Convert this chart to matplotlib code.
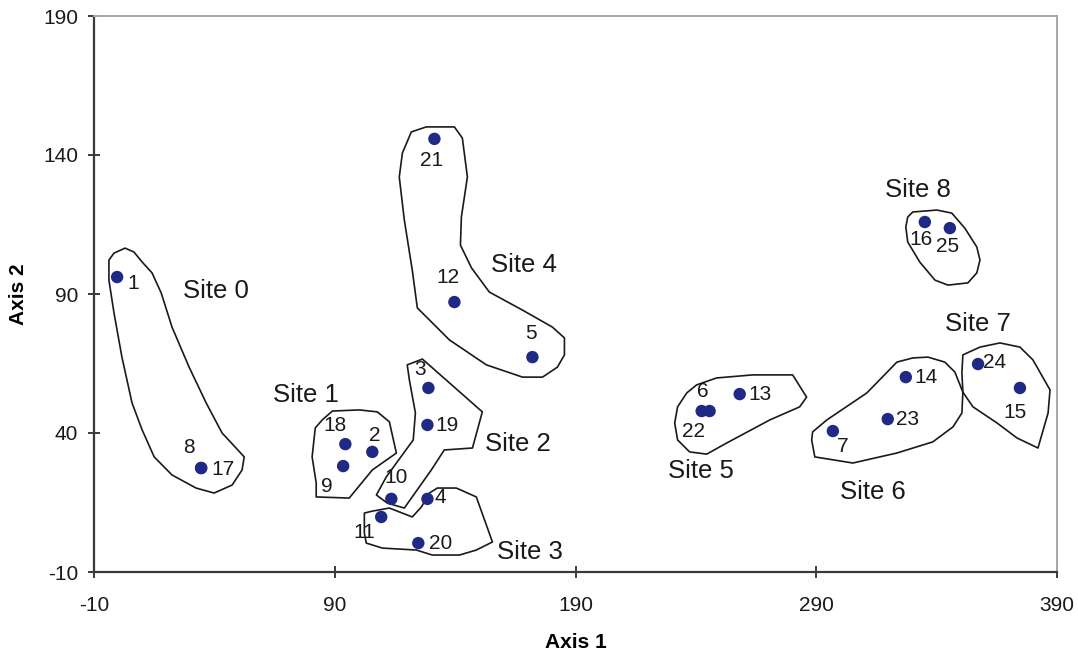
import matplotlib
matplotlib.use('Agg')
from matplotlib import pyplot as plt
from matplotlib.patches import Polygon

plt.rcParams['font.family'] = ['Liberation Sans', 'DejaVu Sans']
plt.rcParams['axes.unicode_minus'] = False

# sample points (axis 1, axis 2)
ids = [1, 8, 17, 21, 12, 5, 3, 19, 18, 2, 9, 10, 4, 11, 20, 6, 22, 13, 7, 23, 14, 24, 15, 16, 25]
axis1 = [-0.4, 34.5, 34.5, 131.4, 139.7, 172.1, 128.9, 128.5, 94.4, 105.6, 93.5, 113.5, 128.5,
         109.3, 124.7, 245.7, 242.4, 258.2, 296.9, 319.7, 327.2, 357.2, 374.6, 335.1, 345.5]
axis2 = [96.1, 27.4, 27.4, 145.8, 87.1, 67.3, 56.2, 42.9, 36.0, 33.2, 28.1, 16.3, 16.3,
         9.8, 0.4, 47.9, 47.9, 54.0, 40.7, 45.0, 60.1, 64.8, 56.2, 115.9, 113.7]

# group outlines
site_names = ['Site 0', 'Site 1', 'Site 2', 'Site 3', 'Site 4', 'Site 5', 'Site 6', 'Site 7', 'Site 8']
site_outlines = [
    [(-3.8, 102.2), (-1.7, 104.7), (2.9, 106.5), (6.6, 105.1), (10.0, 101.5), (14.1, 97.6),
     (17.9, 90.4), (22.4, 78.1), (29.5, 63.7), (36.6, 50.8), (43.2, 40.0), (49.0, 34.6),
     (52.4, 31.4), (51.5, 26.7), (47.4, 21.3), (39.9, 18.4), (32.4, 20.2), (22.4, 24.9),
     (15.0, 31.4), (10.0, 41.1), (5.8, 50.8), (1.6, 67.3), (-1.7, 83.2), (-3.8, 95.0)],
    [(84.8, 44.7), (89.0, 47.9), (100.2, 48.3), (107.7, 47.6), (112.7, 44.0), (113.9, 39.3),
     (115.6, 32.8), (105.6, 26.7), (96.0, 16.6), (82.3, 17.0), (82.3, 22.0), (80.6, 31.4),
     (81.9, 41.8)],
    [(120.1, 64.5), (126.4, 66.6), (151.3, 47.6), (147.2, 34.6), (135.5, 33.9), (130.1, 26.7),
     (118.9, 13.0), (111.8, 14.8), (107.3, 17.7), (111.4, 24.2), (122.6, 37.5), (123.5, 47.2),
     (121.0, 59.1)],
    [(102.3, 11.2), (105.6, 11.9), (112.7, 13.0), (122.2, 9.8), (126.0, 13.4), (129.3, 18.4),
     (132.6, 20.2), (140.5, 20.2), (148.8, 17.0), (155.5, 0.8), (148.8, -2.1), (141.8, -3.9),
     (130.5, -3.9), (123.9, -2.1), (109.8, -1.4), (103.1, 0.4), (102.3, 4.0)],
    [(121.8, 148.3), (128.0, 150.1), (139.7, 150.1), (143.0, 146.1), (145.1, 132.1),
     (142.6, 117.7), (142.2, 107.6), (146.8, 99.4), (154.2, 90.7), (168.0, 84.2),
     (180.4, 78.1), (185.4, 74.2), (185.4, 68.1), (182.5, 63.7), (176.3, 60.1),
     (168.0, 60.1), (153.0, 64.5), (137.6, 73.5), (124.3, 85.0), (122.2, 98.6),
     (118.9, 116.6), (116.8, 132.1), (118.1, 140.7)],
    [(236.2, 54.4), (240.3, 57.3), (248.6, 59.8), (263.6, 60.9), (280.2, 60.9), (286.0, 52.9),
     (283.1, 49.4), (270.7, 44.7), (252.8, 36.4), (244.5, 32.4), (237.4, 33.2), (232.4, 37.5),
     (231.2, 43.6), (232.4, 49.4)],
    [(288.5, 40.4), (294.4, 44.7), (311.0, 54.4), (323.5, 65.5), (330.1, 67.0), (336.4, 67.3),
     (343.4, 65.5), (347.6, 61.9), (350.9, 54.7), (350.5, 47.2), (346.8, 42.2), (338.4, 36.8),
     (323.5, 32.8), (305.2, 29.2), (289.4, 31.4), (288.1, 37.5)],
    [(350.9, 68.1), (358.0, 70.9), (366.3, 72.4), (374.6, 70.9), (380.0, 66.3), (387.1, 55.5),
     (386.3, 47.2), (382.1, 34.6), (373.4, 38.2), (365.1, 43.6), (355.1, 49.4), (350.9, 54.7),
     (350.5, 61.6)],
    [(328.0, 117.7), (330.1, 119.5), (340.1, 120.2), (346.3, 119.1), (351.7, 113.7),
     (356.7, 106.9), (358.0, 102.2), (356.7, 97.6), (353.0, 94.0), (344.7, 93.2),
     (339.3, 95.0), (333.0, 101.5), (328.0, 108.7), (327.2, 114.1)],
]
site_label_x = [40.7, 78.1, 165.9, 170.9, 168.4, 242.0, 313.5, 357.2, 332.2]
site_label_y = [91.1, 53.7, 36.0, -2.8, 100.4, 26.3, 18.8, 79.2, 127.4]

# where each number sits next to its dot (pixels)
label_offsets = {
    1: (16, -6), 8: (-12, 21), 17: (22, -1), 21: (-3, -22), 12: (-6, 25), 5: (-1, 24),
    3: (-8, 18), 19: (20, -1), 18: (-10, 19), 2: (2, 16), 9: (-16, -20), 10: (5, 21),
    4: (13, 1), 11: (-17, -16), 20: (22, 0), 6: (-7, 20), 22: (-8, -20), 13: (20, 0),
    7: (10, -15), 23: (20, 0), 14: (20, 0), 24: (17, 2), 15: (-5, -25), 16: (-4, -18),
    25: (-2, -18),
}

fig = plt.figure(figsize=(10.78, 6.57), dpi=100)
ax = fig.add_axes([94 / 1078, 85 / 657, 963 / 1078, 556 / 657])

for outline in site_outlines:
    ax.add_patch(Polygon(outline, closed=True, fill=False, edgecolor='#1a1a1a',
                         linewidth=1.2, joinstyle='round', zorder=2))

ax.scatter(axis1, axis2, s=80, color='#1f2a86', edgecolors='none', zorder=3)

for i, x, y in zip(ids, axis1, axis2):
    ax.annotate(str(i), (x, y), xytext=label_offsets[i], textcoords='offset pixels',
                ha='center', va='center', fontsize=15, color='#1a1a1a', zorder=4)

for name, x, y in zip(site_names, site_label_x, site_label_y):
    ax.text(x, y, name, ha='center', va='center', fontsize=18.5, color='#1a1a1a')

ax.set_xlim(-10, 390)
ax.set_ylim(-10, 190)
ax.set_xticks([-10, 90, 190, 290, 390])
ax.set_yticks([-10, 40, 90, 140, 190])
ax.tick_params(direction='inout', length=9, width=1.2, labelsize=15, colors='#1a1a1a',
               top=False, right=False)
ax.tick_params(axis='x', pad=13)
ax.tick_params(axis='y', pad=7)
ax.spines['left'].set_color('#3a3a3a')
ax.spines['bottom'].set_color('#3a3a3a')
ax.spines['left'].set_linewidth(1.6)
ax.spines['bottom'].set_linewidth(1.6)
ax.spines['top'].set_color('#a8a8a8')
ax.spines['right'].set_color('#a8a8a8')
ax.spines['top'].set_linewidth(1.4)
ax.spines['right'].set_linewidth(1.4)

ax.set_xlabel('Axis 1', fontsize=15, fontweight='bold', labelpad=13)
ax.set_ylabel('Axis 2', fontsize=15, fontweight='bold', labelpad=11)

plt.savefig('out.png', dpi=100)
